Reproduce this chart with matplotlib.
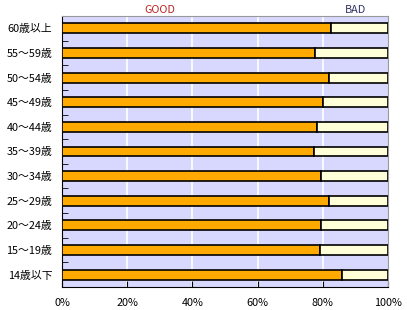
import numpy as np
import matplotlib.pyplot as plt
from matplotlib.ticker import FixedLocator

plt.rcParams['font.family'] = ['Noto Sans CJK JP', 'DejaVu Sans']

# categories top to bottom
ages = ['60歳以上', '55〜59歳', '50〜54歳', '45〜49歳', '40〜44歳', '35〜39歳',
        '30〜34歳', '25〜29歳', '20〜24歳', '15〜19歳', '14歳以下']
good = [82.6, 77.5, 82.0, 80.2, 78.3, 77.4, 79.3, 82.0, 79.6, 79.2, 85.8]
bad = [100 - g for g in good]
xticks = [0, 20, 40, 60, 80, 100]

W, H = 407, 310
fig = plt.figure(figsize=(W / 100, H / 100), dpi=100)
ax = fig.add_axes([62 / W, 1 - 287 / H, (388 - 62) / W, (287 - 16) / H])
ax.set_facecolor('#d8d8ff')

y = np.arange(len(ages))
ax.barh(y, good, height=0.4, color='#ffaa00', edgecolor='black', linewidth=1.2, zorder=3)
ax.barh(y, bad, left=good, height=0.4, color='#ffffd8', edgecolor='black', linewidth=1.2, zorder=3)

ax.set_xlim(0, 100)
ax.set_ylim(len(ages) - 0.5, -0.5)
ax.set_xticks(xticks)
ax.set_xticklabels([f'{t}%' for t in xticks], fontsize=7.8)
ax.set_yticks(y)
ax.set_yticklabels(ages, fontsize=7.8)
ax.yaxis.set_minor_locator(FixedLocator(np.arange(0.5, len(ages) - 1, 1)))
ax.tick_params(axis='y', which='major', length=0, pad=7)
ax.tick_params(axis='y', which='minor', direction='in', length=4, color='black')
ax.tick_params(axis='x', direction='in', length=4, pad=8, color='black')

for v in xticks[1:-1]:
    ax.axvline(v, color='white', linewidth=1.2, zorder=1)

for s in ['top', 'right']:
    ax.spines[s].set_color('#999999')
for s in ['left', 'bottom']:
    ax.spines[s].set_color('black')

fig.text(160 / W, 1 - 10 / H, 'GOOD', color='#bb2222', fontsize=7.8, ha='center', va='center')
fig.text(355 / W, 1 - 10 / H, 'BAD', color='#333366', fontsize=7.8, ha='center', va='center')

fig.savefig('out.png', dpi=100)
